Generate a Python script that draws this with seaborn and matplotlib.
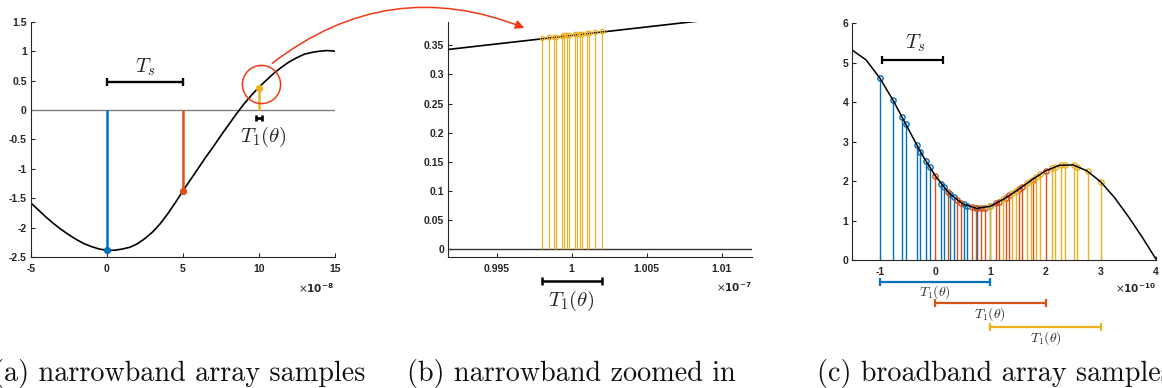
import numpy as np
import pandas as pd
import matplotlib
matplotlib.use("Agg")
import matplotlib.pyplot as plt
import seaborn as sns
from matplotlib.patches import FancyArrowPatch

# ---------------- data ----------------
# (a) narrowband signal (x in 1e-8 s)
a_x = [-5, -4.5, -4, -3.5, -3, -2.5, -2, -1.5, -1, -0.5, 0, 0.5, 1, 1.5, 2, 2.5, 3, 3.5,
       4, 4.5, 5, 5.5, 6, 6.5, 7, 7.5, 8, 8.5, 9, 9.5, 10, 10.5, 11, 11.5, 12, 12.5,
       13, 13.5, 14, 14.5, 15]
a_y = [-1.58, -1.70, -1.82, -1.93, -2.03, -2.12, -2.20, -2.27, -2.32, -2.36, -2.38,
       -2.38, -2.36, -2.33, -2.27, -2.18, -2.07, -1.93, -1.76, -1.57, -1.37, -1.18,
       -0.99, -0.80, -0.62, -0.43, -0.25, -0.07, 0.10, 0.25, 0.39, 0.51, 0.63, 0.73,
       0.82, 0.89, 0.95, 0.98, 1.00, 1.01, 1.00]
a_stem_x = [0, 5, 10]
a_stem_y = [-2.38, -1.37, 0.38]

# (b) zoomed narrowband (x in 1e-7 s)
b_line_x = [0.9918, 1.0086]
b_line_y = [0.343, 0.392]
b_stem_x = [0.99800, 0.99847, 0.99880, 0.99893, 0.99933, 0.99947, 0.99967, 0.99980,
            1.00022, 1.00033, 1.00055, 1.00069, 1.00104, 1.00115, 1.00153, 1.00200]
b_stem_y = [0.363, 0.364, 0.365, 0.365, 0.366, 0.367, 0.367, 0.368,
            0.369, 0.369, 0.370, 0.370, 0.371, 0.371, 0.372, 0.374]

# (c) broadband signal (x in 1e-10 s)
c_x = [-1.5, -1.25, -1.0, -0.75, -0.5, -0.25, 0.0, 0.25, 0.5, 0.75, 1.0, 1.25, 1.5,
       1.75, 2.0, 2.25, 2.5, 2.75, 3.0, 3.25, 3.5, 3.75, 4.0]
c_y = [5.32, 5.07, 4.61, 4.02, 3.36, 2.70, 2.14, 1.70, 1.42, 1.31, 1.36, 1.55, 1.78,
       2.03, 2.26, 2.40, 2.41, 2.26, 1.98, 1.58, 1.10, 0.58, 0.02]
c_blue_x = [-1.0, -0.765, -0.6, -0.535, -0.335, -0.265, -0.165, -0.1,
            0.11, 0.165, 0.275, 0.345, 0.52, 0.575, 0.765, 1.0]
c_blue_y = [4.61, 4.06, 3.62, 3.45, 2.92, 2.74, 2.50, 2.36,
            1.93, 1.85, 1.67, 1.59, 1.41, 1.38, 1.31, 1.36]
c_orange_x = [0.0, 0.235, 0.4, 0.465, 0.665, 0.735, 0.835, 0.9,
              1.11, 1.165, 1.275, 1.345, 1.52, 1.575, 1.765, 2.0]
c_orange_y = [2.14, 1.72, 1.52, 1.45, 1.34, 1.31, 1.31, 1.32,
              1.44, 1.48, 1.57, 1.64, 1.80, 1.85, 2.04, 2.26]
c_yellow_x = [1.0, 1.235, 1.4, 1.465, 1.665, 1.735, 1.835, 1.9,
              2.11, 2.165, 2.275, 2.345, 2.52, 2.575, 2.765, 3.0]
c_yellow_y = [1.36, 1.54, 1.69, 1.75, 1.94, 2.01, 2.11, 2.17,
              2.33, 2.36, 2.40, 2.41, 2.40, 2.37, 2.25, 1.98]

# brackets: (x0, x1, y)
a_Ts = (0, 5, 0.47)
a_T1 = (9.81, 10.19, -0.13)
b_T1 = (0.998, 1.002, -0.054)
c_Ts = (-0.96, 0.14, 5.07)
c_T1 = [(-1.0, 1.0, -0.55), (0.0, 2.0, -1.1), (1.0, 3.0, -1.7)]

a_xticks = [-5, 0, 5, 10, 15]
a_yticks = [-2.5, -2, -1.5, -1, -0.5, 0, 0.5, 1, 1.5]
a_ylabels = ['-2.5', '-2', '-1.5', '-1', '-0.5', '0', '0.5', '1', '1.5']
b_xticks = [0.995, 1.0, 1.005, 1.01]
b_xlabels = ['0.995', '1', '1.005', '1.01']
b_yticks = [0, 0.05, 0.1, 0.15, 0.2, 0.25, 0.3, 0.35]
b_ylabels = ['0', '0.05', '0.1', '0.15', '0.2', '0.25', '0.3', '0.35']
c_xticks = [-1, 0, 1, 2, 3, 4]
c_yticks = [0, 1, 2, 3, 4, 5, 6]

captions = ['(a) narrowband array samples', '(b) narrowband zoomed in',
            '(c) broadband array samples']

# ---------------- style ----------------
sns.set_style("ticks")
plt.rcParams['mathtext.fontset'] = 'cm'
BLUE, ORANGE, YELLOW = '#0072BD', '#D95319', '#EDB120'
AX = '#262626'
TICKFONT = dict(fontfamily='Liberation Sans', fontweight='bold', fontsize=7.5)

W, H = 1162, 388
fig = plt.figure(figsize=(W / 100, H / 100), dpi=100)


def px_axes(l, r, t, b):
    return fig.add_axes([l / W, 1 - b / H, (r - l) / W, (b - t) / H])


def style(ax, xt, xl, yt, yl):
    sns.despine(ax=ax)
    for s in ['left', 'bottom']:
        ax.spines[s].set_color(AX)
        ax.spines[s].set_linewidth(0.8)
    ax.set_xticks(xt, xl, **TICKFONT)
    ax.set_yticks(yt, yl, **TICKFONT)
    ax.tick_params(direction='in', length=3, width=0.8, color=AX, labelcolor=AX)
    ax.tick_params(axis='x', pad=5)
    ax.tick_params(axis='y', pad=3)
    ax.set_xlabel('')
    ax.set_ylabel('')
    ax.grid(False)


def bracket(ax, x0, x1, y, color, lw=1.6, ms=6):
    ax.plot([x0, x1], [y, y], color=color, lw=lw, marker='|', ms=ms, mew=lw,
            clip_on=False, solid_capstyle='butt')


# ---------------- (a) ----------------
ax = px_axes(31, 335, 21.7, 257.3)
ax.plot([-5, 15], [0, 0], color='#7f7f7f', lw=1.0)
sns.lineplot(x=a_x, y=a_y, ax=ax, color='k', lw=1.2, estimator=None, sort=False)
for xs, ys, c in zip(a_stem_x, a_stem_y, [BLUE, ORANGE, YELLOW]):
    ax.vlines(xs, 0, ys, colors=c, lw=1.8)
    ax.plot(xs, ys, 'o', color=c, ms=4.2)
bracket(ax, a_Ts[0], a_Ts[1], a_Ts[2], 'k', lw=1.7, ms=6)
ax.text((a_Ts[0] + a_Ts[1]) / 2, 0.72, r'$T_s$', ha='center', va='center', fontsize=15)
bracket(ax, a_T1[0], a_T1[1], a_T1[2], 'k', lw=1.9, ms=4.5)
ax.text(10.3, -0.45, r'$T_1(\theta)$', ha='center', va='center', fontsize=15)
ax.plot(10.13, 0.44, 'o', ms=27.5, mfc='none', mec='#F03A17', mew=1.1, clip_on=False)
ax.set_xlim(-5, 15)
ax.set_ylim(-2.5, 1.5)
style(ax, a_xticks, [str(v) for v in a_xticks], a_yticks, a_ylabels)

# ---------------- (b) ----------------
ax = px_axes(448.3, 752, 21.7, 257.3)
ax.plot([0.9918, 1.0125], [0, 0], color='#333333', lw=1.0)
sns.lineplot(x=b_line_x, y=b_line_y, ax=ax, color='k', lw=1.2, estimator=None, sort=False)
ax.vlines(b_stem_x, 0, b_stem_y, colors=YELLOW, lw=0.85)
ax.plot(b_stem_x, b_stem_y, 'o', mfc='none', mec=YELLOW, ms=3.2, mew=0.9, ls='none')
bracket(ax, b_T1[0], b_T1[1], b_T1[2], 'k', lw=1.8, ms=6)
ax.text(1.0, -0.088, r'$T_1(\theta)$', ha='center', va='center', fontsize=15)
ax.set_xlim(0.99177, 1.01202)
ax.set_ylim(-0.0137, 0.3905)
style(ax, b_xticks, b_xlabels, b_yticks, b_ylabels)

# ---------------- (c) ----------------
ax = px_axes(852.3, 1156, 23.3, 260)
for xs, ys, c in [(c_blue_x, c_blue_y, BLUE), (c_orange_x, c_orange_y, ORANGE),
                  (c_yellow_x, c_yellow_y, YELLOW)]:
    ax.vlines(xs, 0, ys, colors=c, lw=1.0)
    ax.plot(xs, ys, 'o', mfc='none', mec=c, ms=3.8, mew=1.0, ls='none')
sns.lineplot(x=c_x, y=c_y, ax=ax, color='k', lw=1.1, estimator=None, sort=False)
bracket(ax, c_Ts[0], c_Ts[1], c_Ts[2], 'k', lw=1.6, ms=6)
ax.text(-0.37, 5.5, r'$T_s$', ha='center', va='center', fontsize=15)
for (x0, x1, y), c in zip(c_T1, [BLUE, ORANGE, YELLOW]):
    bracket(ax, x0, x1, y, c, lw=1.6, ms=6)
    ax.text((x0 + x1) / 2, y - 0.27, r'$T_1(\theta)$', ha='center', va='center',
            fontsize=10, color='#333333')
ax.set_xlim(-1.5, 4)
ax.set_ylim(0, 6)
style(ax, c_xticks, [str(v) for v in c_xticks], c_yticks, [str(v) for v in c_yticks])

# offset labels
for xr, yp, e in [(334, 288, '-8'), (752, 287, '-7'), (1156, 288, '-10')]:
    fig.text(xr / W, 1 - yp / H, r'$\times\mathbf{10^{%s}}$' % e, ha='right', va='center',
             fontsize=7.5, color=AX, math_fontfamily='dejavusans')

# red arrow between panels
arrow = FancyArrowPatch((270 / W, 1 - 65 / H), (527 / W, 1 - 29 / H),
                        transform=fig.transFigure, connectionstyle='arc3,rad=-0.29',
                        arrowstyle='-|>', mutation_scale=13, color='#F03A17', lw=1.1)
fig.patches.append(arrow)

# captions
CAP = dict(va='baseline', fontfamily='cmr10', fontsize=20.3, color='#111111')
fig.text(365 / W, 1 - 381 / H, captions[0], ha='right', **CAP)
fig.text(407 / W, 1 - 381 / H, captions[1], ha='left', **CAP)
fig.text(817 / W, 1 - 381 / H, captions[2], ha='left', **CAP)

fig.savefig('out.png', dpi=100)
